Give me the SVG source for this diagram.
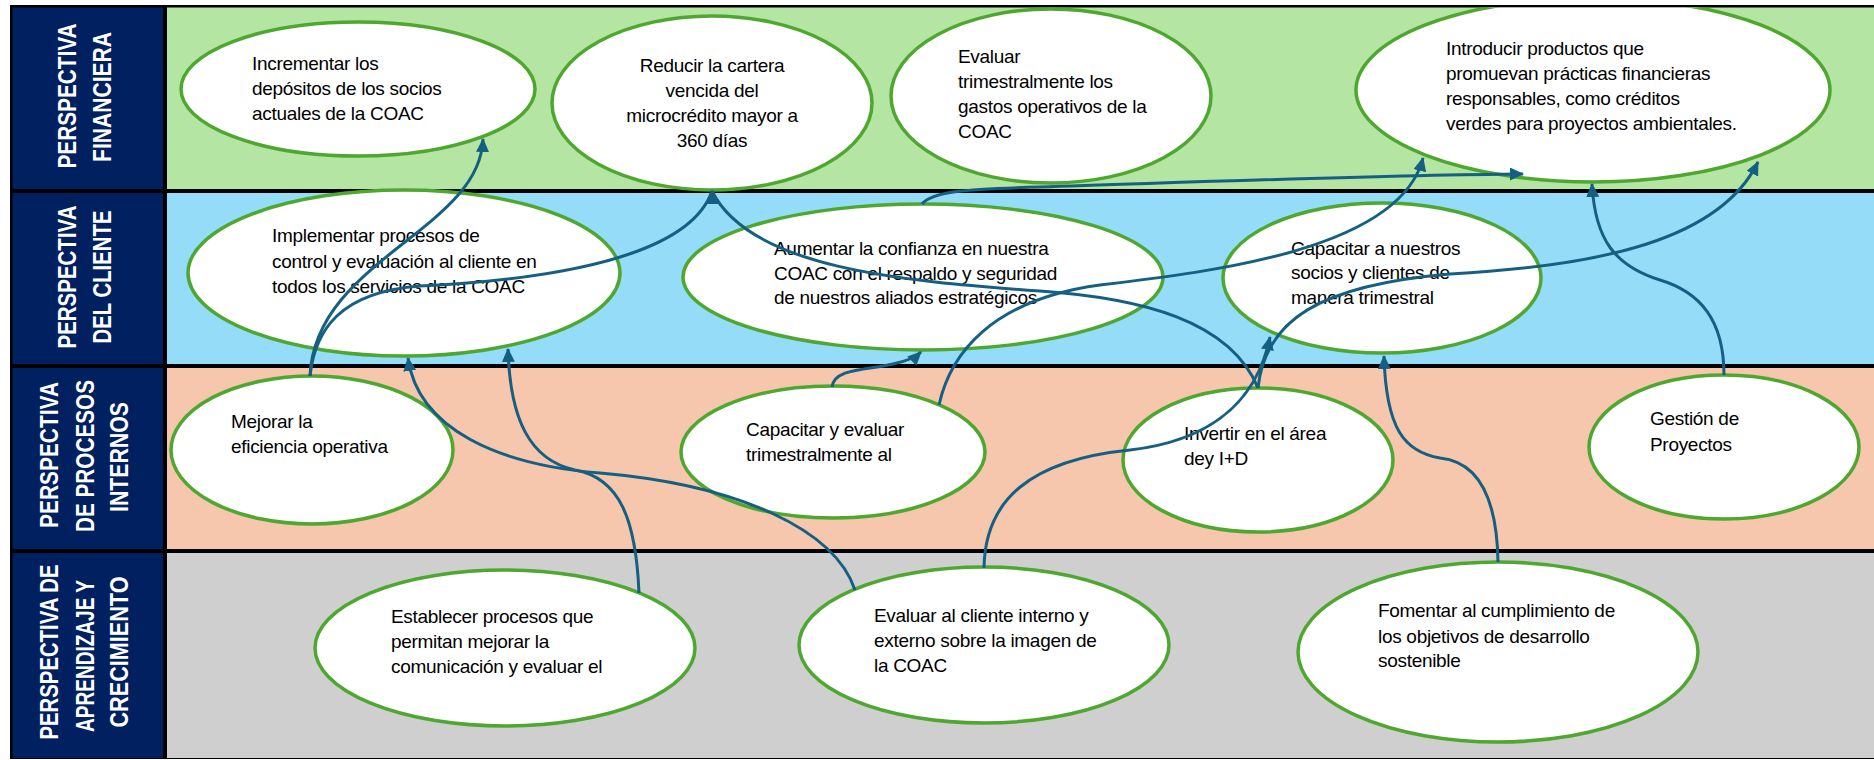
<svg xmlns="http://www.w3.org/2000/svg" width="1874" height="760" viewBox="0 0 1874 760">
<style>
.nav{fill:#002060}
.ell{fill:#fff;stroke:#4EA72E;stroke-width:3.5}
.t{font-family:"Liberation Sans",Arial,sans-serif;font-size:19px;letter-spacing:-0.3px;fill:#000}
.h{font-family:"Liberation Sans",Arial,sans-serif;font-size:26px;font-weight:bold;fill:#fff;text-anchor:middle}
.c{fill:none;stroke:#156082;stroke-width:3}
</style>
<defs>
<marker id="arr" markerUnits="userSpaceOnUse" markerWidth="14" markerHeight="13" refX="13" refY="6.5" orient="auto"><path d="M0,0 L14,6.5 L0,13 z" fill="#156082"/></marker>
<marker id="arrUp" markerUnits="userSpaceOnUse" markerWidth="14" markerHeight="13" refX="13" refY="6.5" orient="270"><path d="M0,0 L14,6.5 L0,13 z" fill="#156082"/></marker>
<clipPath id="frame"><rect x="12" y="7.5" width="1862" height="752"/></clipPath>
</defs>
<rect x="0" y="0" width="1874" height="760" fill="#fff"/>
<g id="lanes">
<rect x="10" y="5" width="1864" height="754" fill="#000"/>
<rect class="nav" x="12.5" y="7.5" width="150.5" height="181.5"/>
<rect class="nav" x="12.5" y="193" width="150.5" height="171"/>
<rect class="nav" x="12.5" y="368" width="150.5" height="181"/>
<rect class="nav" x="12.5" y="553" width="150.5" height="205"/>
<rect x="167" y="7.5" width="1707" height="181.5" fill="#B4E5A2"/>
<rect x="167" y="193" width="1707" height="171" fill="#94DCF8"/>
<rect x="167" y="368" width="1707" height="181" fill="#F6C6AD"/>
<rect x="167" y="553" width="1707" height="205" fill="#CFCFCF"/>
</g>
<g id="headers">
<text class="h" transform="translate(76,96) rotate(-90)" textLength="145" lengthAdjust="spacingAndGlyphs">PERSPECTIVA</text>
<text class="h" transform="translate(111,97) rotate(-90)" textLength="130" lengthAdjust="spacingAndGlyphs">FINANCIERA</text>
<text class="h" transform="translate(76,277) rotate(-90)" textLength="143" lengthAdjust="spacingAndGlyphs">PERSPECTIVA</text>
<text class="h" transform="translate(111,277) rotate(-90)" textLength="133" lengthAdjust="spacingAndGlyphs">DEL CLIENTE</text>
<text class="h" transform="translate(58,455) rotate(-90)" textLength="146" lengthAdjust="spacingAndGlyphs">PERSPECTIVA</text>
<text class="h" transform="translate(94,456) rotate(-90)" textLength="152" lengthAdjust="spacingAndGlyphs">DE PROCESOS</text>
<text class="h" transform="translate(128,457) rotate(-90)" textLength="110" lengthAdjust="spacingAndGlyphs">INTERNOS</text>
<text class="h" transform="translate(58,652) rotate(-90)" textLength="175" lengthAdjust="spacingAndGlyphs">PERSPECTIVA DE</text>
<text class="h" transform="translate(94,656) rotate(-90)" textLength="152" lengthAdjust="spacingAndGlyphs">APRENDIZAJE Y</text>
<text class="h" transform="translate(128,652) rotate(-90)" textLength="151" lengthAdjust="spacingAndGlyphs">CRECIMIENTO</text>
</g>
<g id="n1"><ellipse class="ell" cx="358" cy="89" rx="177" ry="67"/>
<text class="t" x="252" y="70">Incrementar los</text><text class="t" x="252" y="95">depósitos de los socios</text><text class="t" x="252" y="120">actuales de la COAC</text></g>
<g id="n2"><ellipse class="ell" cx="712" cy="103" rx="160" ry="87"/>
<text class="t" x="712" y="72" text-anchor="middle">Reducir la cartera</text><text class="t" x="712" y="97" text-anchor="middle">vencida del</text><text class="t" x="712" y="122" text-anchor="middle">microcrédito mayor a</text><text class="t" x="712" y="147" text-anchor="middle">360 días</text></g>
<g id="n3"><ellipse class="ell" cx="1051" cy="96" rx="160" ry="87"/>
<text class="t" x="958" y="63">Evaluar</text><text class="t" x="958" y="88">trimestralmente los</text><text class="t" x="958" y="113">gastos operativos de la</text><text class="t" x="958" y="138">COAC</text></g>
<g id="n4" clip-path="url(#frame)"><ellipse class="ell" cx="1593" cy="90" rx="237" ry="92"/>
<text class="t" x="1446" y="55">Introducir productos que</text><text class="t" x="1446" y="80">promuevan prácticas financieras</text><text class="t" x="1446" y="105">responsables, como créditos</text><text class="t" x="1446" y="130">verdes para proyectos ambientales.</text></g>
<g id="n5"><ellipse class="ell" cx="404" cy="273" rx="216" ry="83"/>
<text class="t" x="272" y="242">Implementar procesos de</text><text class="t" x="272" y="268">control y evaluación al cliente en</text><text class="t" x="272" y="293">todos los servicios de la COAC</text></g>
<g id="n6"><ellipse class="ell" cx="923" cy="277" rx="240" ry="73"/>
<text class="t" x="774" y="255">Aumentar la confianza en nuestra</text><text class="t" x="774" y="280">COAC con el respaldo y seguridad</text><text class="t" x="774" y="304">de nuestros aliados estratégicos</text></g>
<g id="n7"><ellipse class="ell" cx="1382" cy="278" rx="159" ry="75"/>
<text class="t" x="1291" y="255">Capacitar a nuestros</text><text class="t" x="1291" y="279">socios y clientes de</text><text class="t" x="1291" y="304">manera trimestral</text></g>
<g id="n8"><ellipse class="ell" cx="312" cy="450" rx="141" ry="74"/>
<text class="t" x="231" y="428">Mejorar la</text><text class="t" x="231" y="453">eficiencia operativa</text></g>
<g id="n9"><ellipse class="ell" cx="833" cy="452" rx="152" ry="66"/>
<text class="t" x="746" y="436">Capacitar y evaluar</text><text class="t" x="746" y="461">trimestralmente al</text></g>
<g id="n10"><ellipse class="ell" cx="1258" cy="460" rx="135" ry="72"/>
<text class="t" x="1184" y="440">Invertir en el área</text><text class="t" x="1184" y="465">dey I+D</text></g>
<g id="n11"><ellipse class="ell" cx="1724" cy="447" rx="135" ry="72"/>
<text class="t" x="1650" y="425">Gestión de</text><text class="t" x="1650" y="451">Proyectos</text></g>
<g id="n12"><ellipse class="ell" cx="505" cy="648" rx="190" ry="78"/>
<text class="t" x="391" y="623">Establecer procesos que</text><text class="t" x="391" y="648">permitan mejorar la</text><text class="t" x="391" y="673">comunicación y evaluar el</text></g>
<g id="n13"><ellipse class="ell" cx="984" cy="645" rx="185" ry="78"/>
<text class="t" x="874" y="622">Evaluar al cliente interno y</text><text class="t" x="874" y="647">externo sobre la imagen de</text><text class="t" x="874" y="672">la COAC</text></g>
<g id="n14"><ellipse class="ell" cx="1498" cy="652" rx="200" ry="90"/>
<text class="t" x="1378" y="617">Fomentar al cumplimiento de</text><text class="t" x="1378" y="643">los objetivos de desarrollo</text><text class="t" x="1378" y="667">sostenible</text></g>
<g id="connectors">
<path class="c" marker-end="url(#arr)" d="M310,376 C315,260 480,230 483,139"/>
<path class="c" marker-end="url(#arrUp)" d="M310,376 C315,330 340,292 420,286 C560,279 690,255 712,191"/>
<path class="c" marker-end="url(#arrUp)" d="M1258,388 C1230,320 1140,298 1040,291 C900,281 750,268 712,191"/>
<path class="c" marker-end="url(#arr)" d="M832,387 C834,368 868,370 893,364 C907,361 915,358 921,352"/>
<path class="c" marker-end="url(#arr)" d="M939,405 C950,355 990,300 1100,285 C1210,272 1400,250 1423,158"/>
<path class="c" marker-end="url(#arr)" d="M984,568 C985,500 1030,460 1130,450 C1200,442 1255,410 1270,337"/>
<path class="c" marker-end="url(#arr)" d="M922,204 C932,192 960,189 1040,187 C1200,182 1380,175 1523,174"/>
<path class="c" marker-end="url(#arr)" d="M1724,375 C1724,320 1700,292 1660,280 C1615,266 1595,240 1592,184"/>
<path class="c" marker-end="url(#arr)" d="M1498,562 C1497,500 1480,462 1440,458 C1405,452 1386,430 1384,356"/>
<path class="c" marker-end="url(#arr)" d="M1258,388 C1265,320 1320,285 1450,274 C1600,266 1720,240 1758,162"/>
<path class="c" marker-end="url(#arr)" d="M855,590 C835,530 740,485 600,473 C500,465 418,430 408,358"/>
<path class="c" marker-end="url(#arr)" d="M639,593 C636,520 620,478 575,470 C530,460 510,420 508,349"/>
</g>
</svg>
